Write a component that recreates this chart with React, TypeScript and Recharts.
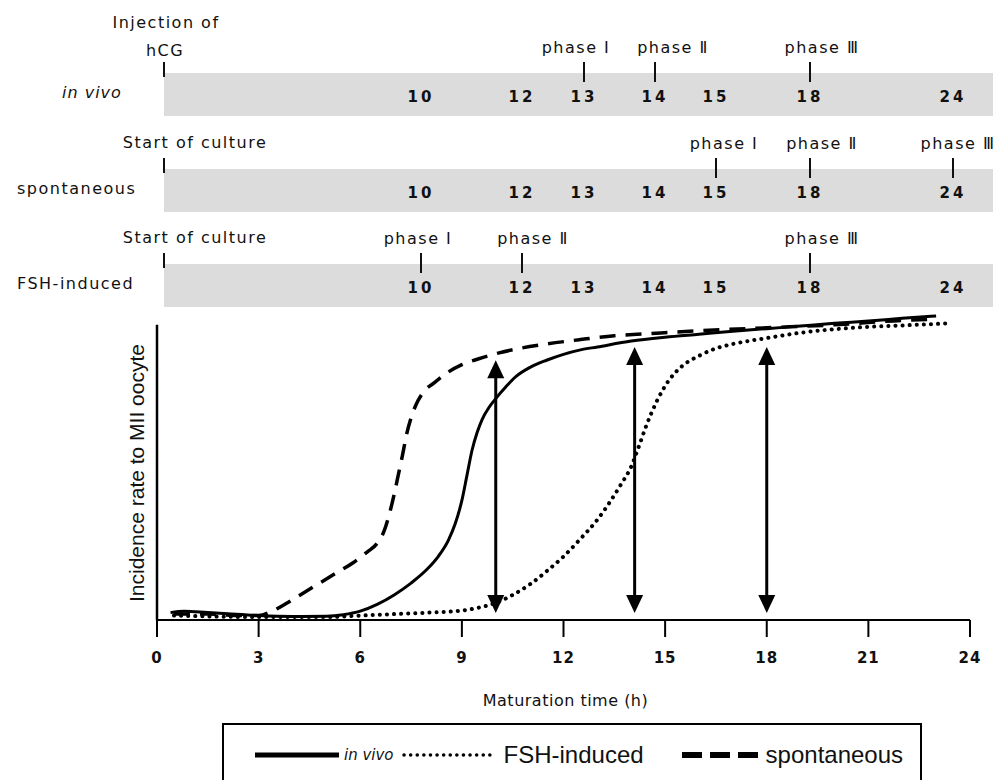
import { LineChart, Line, XAxis, YAxis, ReferenceLine, Legend } from 'recharts';

// Maturation time (h) and incidence rate (% of final MII)
const IN_VIVO_T = [0.4, 0.8, 1.5, 2.2, 3, 4, 5, 5.5, 6, 6.5, 7, 7.5, 8, 8.3, 8.6, 8.8, 9.0, 9.15, 9.3, 9.45, 9.6, 9.8, 10, 10.3, 10.6, 11, 11.5, 12, 12.5, 13, 14, 15, 16, 17, 18, 19, 20, 21, 22, 23];
const IN_VIVO_RATE = [2.5, 3, 2.5, 2, 1.5, 1.2, 1.3, 1.8, 3, 5.3, 8.5, 12.5, 17.5, 21.5, 27, 32.5, 40.5, 49, 57.5, 63.5, 68, 72, 75, 79, 82.5, 85.5, 88, 90, 91.5, 92.5, 94.5, 95.8, 96.8, 97.8, 98.7, 99.6, 100.5, 101.3, 102.2, 103];

const FSH_T = [0.5, 3, 5, 6, 7, 8, 9, 9.5, 10, 10.5, 11, 11.5, 12, 12.5, 13, 13.4, 13.7, 14, 14.2, 14.45, 14.75, 15.1, 15.5, 16, 16.5, 17, 18, 19, 20, 21, 22, 23.4];
const FSH_RATE = [1.5, 1, 1, 1.5, 2, 2.5, 3.2, 4.2, 5.8, 8.5, 12, 16.5, 21.5, 27.5, 34, 40.5, 46, 52, 58, 66, 74, 81, 86, 89.5, 92, 93.5, 95.5, 97.3, 98.5, 99.3, 99.8, 100.5];

const SPONT_T = [0.5, 1.5, 2.5, 3, 3.4, 3.8, 4.3, 4.8, 5.3, 5.8, 6.2, 6.5, 6.7, 6.85, 7.0, 7.12, 7.25, 7.37, 7.5, 7.65, 7.85, 8.2, 8.6, 9.0, 9.5, 10.1, 10.7, 11.5, 12.5, 13.5, 14.5, 16, 18, 20, 22, 22.8];
const SPONT_RATE = [2, 2, 1.5, 1.5, 3, 5.5, 9, 12.5, 16, 19.5, 23, 26, 30, 35.5, 42.5, 49, 56, 63, 68.5, 73, 77, 80.5, 84, 86.5, 88.5, 90.5, 92, 93.5, 95, 96.3, 97, 98, 99, 100, 101.5, 101.8];

const X_TICKS = [0, 3, 6, 9, 12, 15, 18, 21, 24];

// double-headed arrows (hour, low, high)
const ARROW_T = [10, 14.1, 18];
const ARROW_LOW = [2.4, 2.4, 2.4];
const ARROW_HIGH = [88, 92.5, 92.5];

// schematic timelines
const ROW_NAMES = ['in vivo', 'spontaneous', 'FSH-induced'];
const ROW_START = [['Injection of', 'hCG'], ['Start of culture'], ['Start of culture']];
const TIMELINE_HOURS = [10, 12, 13, 14, 15, 18, 24];
const PHASE_NAMES = ['phase I', 'phase Ⅱ', 'phase Ⅲ'];
const PHASE_HOURS = [[13, 14, 18], [15, 18, 24], [10, 12, 18]];

// layout of the schematic (hand placed in the original)
const HOUR_X: Record<number, number> = { 0: 164, 10: 421, 12: 522, 13: 584, 14: 655, 15: 716, 18: 810, 24: 953 };
const PHASE_LABEL_DX = [[-8, 18, 12], [8, 12, 5], [-3, 11, 12]];
const ROW_TOP = [73, 169, 264];
const ROW_LABEL_X = [62, 17, 17];
const BAR_H = 43;
const BAR_RIGHT = 993;

const zip = (t: number[], v: number[]) => t.map((x, i) => ({ t: x, v: v[i] }));
const inVivo = zip(IN_VIVO_T, IN_VIVO_RATE);
const fsh = zip(FSH_T, FSH_RATE);
const spont = zip(SPONT_T, SPONT_RATE);

const BITMAP = '"DejaVu Sans", sans-serif';
const ARIAL = '"Liberation Sans", Arial, sans-serif';

function Timelines() {
  const t = { fontFamily: BITMAP, fontSize: 16, letterSpacing: 1.5, fill: '#111' };
  return (
    <svg width={1007} height={320} style={{ position: 'absolute', left: 0, top: 0, pointerEvents: 'none' }}>
      {ROW_NAMES.map((name, r) => {
        const top = ROW_TOP[r];
        return (
          <g key={name}>
            <rect x={HOUR_X[0]} y={top} width={BAR_RIGHT - HOUR_X[0]} height={BAR_H} fill="#dcdcdc" />
            <text x={ROW_LABEL_X[r]} y={top + 19} dominantBaseline="central" {...t}
              fontStyle={r === 0 ? 'italic' : 'normal'} letterSpacing={r === 0 ? 1 : 1.5}>{name}</text>
            {/* start marker */}
            <line x1={HOUR_X[0]} x2={HOUR_X[0]} y1={top - 11} y2={top + 4} stroke="#111" strokeWidth={2} />
            {ROW_START[r].length === 2 ? (
              <>
                <text x={166} y={top - 51} textAnchor="middle" dominantBaseline="central" {...t}>{ROW_START[r][0]}</text>
                <text x={165} y={top - 23} textAnchor="middle" dominantBaseline="central" {...t}>{ROW_START[r][1]}</text>
              </>
            ) : (
              <text x={195} y={top - 27} textAnchor="middle" dominantBaseline="central" {...t}>{ROW_START[r][0]}</text>
            )}
            {TIMELINE_HOURS.map((h) => (
              <text key={h} x={HOUR_X[h]} y={top + 24} textAnchor="middle" dominantBaseline="central" {...t}
                fontSize={15} fontWeight="bold" letterSpacing={3}>{h}</text>
            ))}
            {PHASE_HOURS[r].map((h, i) => (
              <g key={h}>
                <line x1={HOUR_X[h]} x2={HOUR_X[h]} y1={top - 11} y2={top + 9} stroke="#111" strokeWidth={2} />
                <text x={HOUR_X[h] + PHASE_LABEL_DX[r][i]} y={top - 26} textAnchor="middle" dominantBaseline="central" {...t}>
                  {PHASE_NAMES[i]}
                </text>
              </g>
            ))}
          </g>
        );
      })}
    </svg>
  );
}

function Arrow(props: any) {
  const { x1, y1, y2 } = props;
  const top = Math.min(y1, y2);
  const bot = Math.max(y1, y2);
  const hw = 8.5;
  const hh = 18;
  return (
    <g>
      <line x1={x1} x2={x1} y1={top + hh - 2} y2={bot - hh + 2} stroke="#000" strokeWidth={3} />
      <polygon points={`${x1},${top} ${x1 - hw},${top + hh} ${x1 + hw},${top + hh}`} fill="#000" />
      <polygon points={`${x1},${bot} ${x1 - hw},${bot - hh} ${x1 + hw},${bot - hh}`} fill="#000" />
    </g>
  );
}

const LEGEND_ORDER = ['in vivo', 'FSH-induced', 'spontaneous'];

function LegendBox({ payload }: any) {
  const items = [...(payload || [])].sort((a: any, b: any) => LEGEND_ORDER.indexOf(a.value) - LEGEND_ORDER.indexOf(b.value));
  const sample = (name: string) => {
    if (name === 'in vivo') return <svg width={84} height={10}><line x1={0} x2={84} y1={5} y2={5} stroke="#000" strokeWidth={5} /></svg>;
    if (name === 'FSH-induced') return <svg width={94} height={10}><line x1={2} x2={94} y1={5} y2={5} stroke="#000" strokeWidth={3.5} strokeDasharray="0.1 6.5" strokeLinecap="round" /></svg>;
    return <svg width={76} height={10}><line x1={0} x2={76} y1={5} y2={5} stroke="#000" strokeWidth={6} strokeDasharray="20 8" /></svg>;
  };
  const gaps: Record<string, number> = { 'in vivo': 31, 'FSH-induced': 8, spontaneous: 38 };
  return (
    <div style={{ border: '2px solid #000', height: 80, boxSizing: 'border-box', display: 'flex', alignItems: 'flex-start' }}>
      {items.map((p: any) => {
        const iv = p.value === 'in vivo';
        return (
          <div key={p.value} style={{ display: 'flex', alignItems: 'center', marginLeft: gaps[p.value], marginTop: 15, height: 30 }}>
            {sample(p.value)}
            <span style={{
              marginLeft: iv ? 5 : 8,
              fontFamily: iv ? BITMAP : ARIAL,
              fontStyle: iv ? 'italic' : 'normal',
              fontSize: iv ? 15 : 24,
              color: '#111',
            }}>{p.value}</span>
          </div>
        );
      })}
    </div>
  );
}

export default function App() {
  return (
    <div style={{ position: 'absolute', left: 0, top: 0, width: 1007, height: 780, background: '#fff' }}>
      <LineChart width={1007} height={780} margin={{ top: 313, right: 37, left: 117, bottom: 80 }}>
        <XAxis
          type="number"
          dataKey="t"
          domain={[0, 24]}
          ticks={X_TICKS}
          allowDuplicatedCategory={false}
          height={80}
          axisLine={{ stroke: '#000', strokeWidth: 2 }}
          tickLine={{ stroke: '#000', strokeWidth: 2 }}
          tickSize={17}
          tickMargin={15}
          tick={{ fontFamily: BITMAP, fontSize: 15, fontWeight: 'bold', fill: '#111', letterSpacing: 1 }}
          label={{
            content: ({ viewBox }: any) => (
              <text x={viewBox.x + viewBox.width / 2 + 2} y={viewBox.y + 80} textAnchor="middle" dominantBaseline="central"
                fontFamily={BITMAP} fontSize={16} letterSpacing={0.5} fill="#111">Maturation time (h)</text>
            ),
          }}
        />
        <YAxis
          type="number"
          dataKey="v"
          domain={[0, 104]}
          width={40}
          axisLine={false}
          tickLine={false}
          tick={false}
          label={{
            content: ({ viewBox }: any) => {
              const cx = viewBox.x + 19;
              const cy = 473;
              return (
                <text x={cx} y={cy} transform={`rotate(-90 ${cx} ${cy})`} textAnchor="middle" dominantBaseline="central"
                  fontFamily={ARIAL} fontSize={21} fill="#111">Incidence rate to MII oocyte</text>
              );
            },
          }}
        />
        <ReferenceLine segment={[{ x: 0, y: 0 }, { x: 0, y: 100 }]} stroke="#000" strokeWidth={2.5} />
        {ARROW_T.map((h, i) => (
          <ReferenceLine key={h} segment={[{ x: h, y: ARROW_LOW[i] }, { x: h, y: ARROW_HIGH[i] }]} shape={Arrow} />
        ))}
        <Line data={inVivo} dataKey="v" name="in vivo" type="monotone" stroke="#000" strokeWidth={3}
          dot={false} isAnimationActive={false} />
        <Line data={fsh} dataKey="v" name="FSH-induced" type="monotone" stroke="#000" strokeWidth={4}
          strokeDasharray="0.1 7" strokeLinecap="round" dot={false} isAnimationActive={false} />
        <Line data={spont} dataKey="v" name="spontaneous" type="monotone" stroke="#000" strokeWidth={3.5}
          strokeDasharray="16 10" dot={false} isAnimationActive={false} />
        <Legend
          verticalAlign="middle"
          align="center"
          layout="horizontal"
          content={(props: any) => <LegendBox payload={props.payload} />}
          wrapperStyle={{ left: 222, top: 723, width: 700, height: 80 }}
        />
      </LineChart>
      <Timelines />
    </div>
  );
}
